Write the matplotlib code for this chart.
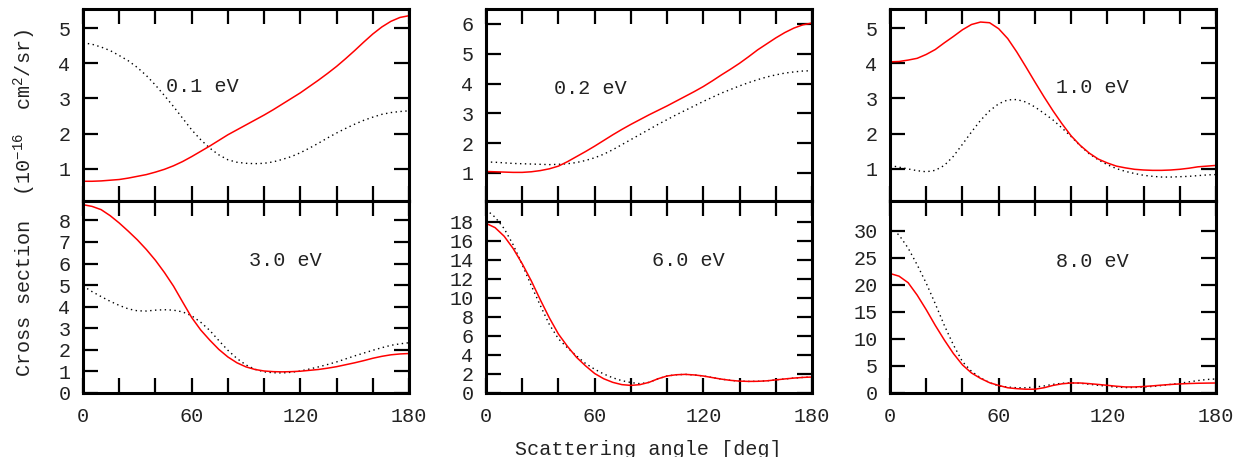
import numpy as np
import matplotlib
matplotlib.use("Agg")
import matplotlib.pyplot as plt
from matplotlib.ticker import MultipleLocator

plt.rcParams["font.family"] = ["Liberation Mono", "DejaVu Sans Mono"]
plt.rcParams["mathtext.fontset"] = "custom"
plt.rcParams["mathtext.rm"] = "Liberation Mono"
plt.rcParams["mathtext.default"] = "regular"

# Data (every 5 deg)

ANGLES = list(range(0, 181, 5))

ENERGY_LABELS = ["0.1 eV", "0.2 eV", "1.0 eV", "3.0 eV", "6.0 eV", "8.0 eV"]

# solid red curves
RED_01 = [0.65, 0.65, 0.66, 0.68, 0.70, 0.74, 0.79, 0.84, 0.91, 0.99,
          1.09, 1.21, 1.35, 1.50, 1.65, 1.81, 1.97, 2.11, 2.25, 2.39,
          2.53, 2.68, 2.84, 3.00, 3.16, 3.34, 3.52, 3.71, 3.91, 4.13,
          4.36, 4.60, 4.83, 5.03, 5.19, 5.30, 5.35]
RED_02 = [1.05, 1.04, 1.03, 1.02, 1.02, 1.04, 1.08, 1.14, 1.23, 1.38,
          1.55, 1.72, 1.90, 2.09, 2.28, 2.46, 2.63, 2.79, 2.95, 3.10,
          3.25, 3.41, 3.57, 3.73, 3.90, 4.09, 4.29, 4.48, 4.68, 4.90,
          5.13, 5.33, 5.53, 5.71, 5.86, 5.97, 6.03]
RED_10 = [4.04, 4.05, 4.09, 4.14, 4.25, 4.39, 4.58, 4.76, 4.95, 5.10,
          5.17, 5.15, 4.98, 4.70, 4.32, 3.90, 3.47, 3.05, 2.65, 2.28,
          1.94, 1.67, 1.45, 1.28, 1.17, 1.08, 1.03, 0.99, 0.97, 0.96,
          0.96, 0.97, 0.99, 1.02, 1.06, 1.08, 1.10]
RED_30 = [8.73, 8.65, 8.50, 8.22, 7.88, 7.50, 7.10, 6.65, 6.15, 5.58,
          4.95, 4.22, 3.50, 2.92, 2.45, 2.02, 1.67, 1.40, 1.21, 1.09,
          1.02, 0.99, 0.98, 0.99, 1.01, 1.05, 1.09, 1.15, 1.22, 1.31,
          1.40, 1.50, 1.61, 1.70, 1.77, 1.81, 1.83]
RED_60 = [17.85, 17.4, 16.5, 15.2, 13.6, 11.8, 9.8, 7.9, 6.2, 4.9,
          3.75, 2.85, 2.05, 1.50, 1.12, 0.88, 0.80, 0.88, 1.12, 1.50,
          1.79, 1.92, 1.96, 1.90, 1.79, 1.62, 1.46, 1.33, 1.25, 1.22,
          1.23, 1.28, 1.38, 1.48, 1.57, 1.64, 1.68]
RED_80 = [22.1, 21.6, 20.4, 18.1, 15.4, 12.5, 9.8, 7.3, 5.2, 3.7,
          2.7, 1.9, 1.4, 0.97, 0.80, 0.70, 0.70, 0.97, 1.40, 1.70,
          1.85, 1.85, 1.73, 1.58, 1.42, 1.25, 1.12, 1.12, 1.20, 1.32,
          1.46, 1.58, 1.68, 1.75, 1.80, 1.83, 1.85]

# dotted black curves
DOT_01 = [4.58, 4.54, 4.46, 4.36, 4.22, 4.07, 3.88, 3.65, 3.38, 3.08,
          2.77, 2.44, 2.11, 1.83, 1.59, 1.40, 1.26, 1.19, 1.16, 1.15,
          1.16, 1.20, 1.27, 1.35, 1.46, 1.59, 1.73, 1.88, 2.02, 2.15,
          2.27, 2.38, 2.47, 2.55, 2.60, 2.63, 2.65]
DOT_02 = [1.37, 1.36, 1.34, 1.32, 1.31, 1.30, 1.29, 1.28, 1.29, 1.31,
          1.35, 1.42, 1.51, 1.63, 1.78, 1.95, 2.12, 2.29, 2.46, 2.63,
          2.79, 2.95, 3.10, 3.25, 3.40, 3.54, 3.68, 3.80, 3.92, 4.03,
          4.13, 4.22, 4.29, 4.35, 4.39, 4.42, 4.43]
DOT_10 = [1.10, 1.05, 1.00, 0.95, 0.92, 0.96, 1.10, 1.36, 1.70, 2.05,
          2.38, 2.65, 2.85, 2.96, 2.97, 2.90, 2.76, 2.58, 2.39, 2.16,
          1.92, 1.66, 1.43, 1.26, 1.12, 1.01, 0.93, 0.87, 0.82, 0.79,
          0.77, 0.77, 0.78, 0.79, 0.81, 0.83, 0.84]
DOT_30 = [4.96, 4.70, 4.47, 4.25, 4.06, 3.90, 3.81, 3.80, 3.84, 3.86,
          3.84, 3.76, 3.58, 3.28, 2.90, 2.43, 1.98, 1.60, 1.30, 1.10,
          0.98, 0.94, 0.93, 0.96, 1.02, 1.11, 1.21, 1.32, 1.44, 1.58,
          1.72, 1.85, 1.98, 2.10, 2.21, 2.28, 2.33]
DOT_60 = [19.3, 18.5, 17.3, 15.6, 13.5, 11.3, 9.2, 7.2, 5.7, 4.75,
          3.9, 3.1, 2.5, 2.0, 1.6, 1.3, 1.1, 0.98, 1.12, 1.50,
          1.79, 1.92, 1.96, 1.90, 1.79, 1.62, 1.46, 1.33, 1.25, 1.22,
          1.23, 1.28, 1.38, 1.48, 1.57, 1.64, 1.68]
DOT_80 = [30.6, 29.2, 26.8, 23.7, 20.3, 16.5, 12.5, 8.9, 5.8, 4.0,
          2.8, 1.9, 1.3, 1.1, 0.97, 0.97, 1.10, 1.30, 1.60, 1.80,
          1.88, 1.80, 1.62, 1.42, 1.25, 1.10, 1.00, 1.02, 1.10, 1.22,
          1.38, 1.60, 1.80, 2.05, 2.30, 2.50, 2.60]

RED = [RED_01, RED_02, RED_10, RED_30, RED_60, RED_80]
DOT = [DOT_01, DOT_02, DOT_10, DOT_30, DOT_60, DOT_80]

Y_LIMITS = [(0.09, 5.54), (0.06, 6.5), (0.09, 5.54),
            (0, 8.9), (0, 20.2), (0, 35.5)]
Y_TICKS = [range(1, 6), range(1, 7), range(1, 6),
           range(0, 9), range(0, 19, 2), range(0, 31, 5)]
LABEL_POS = [(66, 3.35), (57.5, 3.85), (111.6, 3.3),
             (111.6, 6.13), (111.6, 13.9), (111.6, 24.4)]

FS = 14.5
TEXT_C = "#222222"

# Layout in pixels
W, H = 1242, 457
LEFTS = [83, 486, 890]
AX_W = 326
TOP_Y, MID_Y, BOT_Y = 9, 201, 393


def _style(ax, i):
    ax.set_xlim(0, 180)
    ax.set_ylim(*Y_LIMITS[i])
    ax.xaxis.set_major_locator(MultipleLocator(60))
    ax.xaxis.set_minor_locator(MultipleLocator(20))
    ax.set_yticks(list(Y_TICKS[i]))
    for side in ax.spines.values():
        side.set_linewidth(2.2)
    ax.tick_params(which="both", direction="in", top=True, right=True,
                   length=11, width=1.6, labelsize=FS, labelcolor=TEXT_C)
    ax.tick_params(axis="y", pad=9)
    ax.tick_params(axis="x", pad=10)
    if i < 3:
        ax.tick_params(axis="x", labelbottom=False)


fig = plt.figure(figsize=(W / 100, H / 100), dpi=100, facecolor="white")

for i in range(6):
    col, row = i % 3, i // 3
    top = TOP_Y if row == 0 else MID_Y
    bot = MID_Y if row == 0 else BOT_Y
    ax = fig.add_axes([LEFTS[col] / W, 1 - bot / H, AX_W / W, (bot - top) / H])
    ax.plot(ANGLES, DOT[i], color="black", linewidth=1.0,
            linestyle=(0, (1, 2.5)))
    ax.plot(ANGLES, RED[i], color="red", linewidth=1.1)
    ax.text(*LABEL_POS[i], ENERGY_LABELS[i], fontsize=FS,
            ha="center", va="center", color=TEXT_C)
    _style(ax, i)

fig.text(25 / W, 1 - 203 / H, "Cross section  (10$^{-16}$  cm$^{2}$/sr)",
         rotation=90, ha="center", va="center", fontsize=FS, color=TEXT_C)
fig.text(648 / W, 1 - 440 / H, "Scattering angle [deg]",
         ha="center", va="top", fontsize=FS, color=TEXT_C)

fig.savefig("out.png", dpi=100, facecolor="white")
